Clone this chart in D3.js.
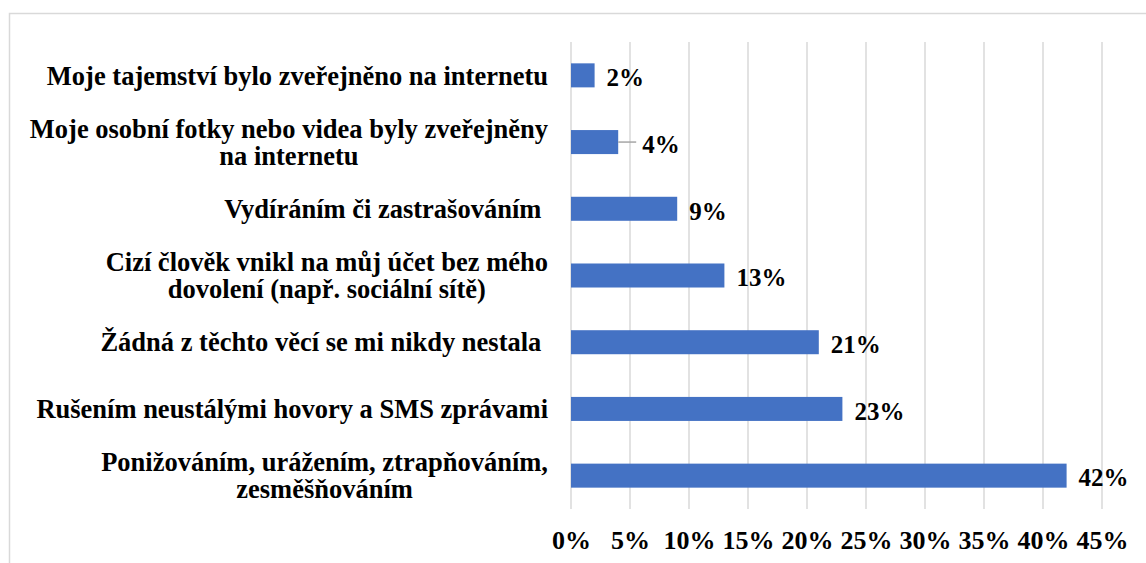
<!DOCTYPE html>
<html>
<head>
<meta charset="UTF-8">
<title>Kyberšikana</title>
<style>
  body { margin: 0; background: #fff; }
</style>
</head>
<body>
<div id="chart"></div>
<script src="https://cdn.jsdelivr.net/npm/d3@7"></script>
<script>
var categories = [
  ["Moje tajemství bylo zveřejněno na internetu"],
  ["Moje osobní fotky nebo videa byly zveřejněny", "na internetu"],
  ["Vydíráním či zastrašováním\u00a0"],
  ["Cizí člověk vnikl na můj účet bez mého", "dovolení (např. sociální sítě)"],
  ["Žádná z těchto věcí se mi nikdy nestala\u00a0"],
  ["Rušením neustálými hovory a SMS zprávami"],
  ["Ponižováním, urážením, ztrapňováním,", "zesměšňováním"]
];
var values = [2, 4, 9, 13, 21, 23, 42];
var ticks = [0, 5, 10, 15, 20, 25, 30, 35, 40, 45];

var W = 1146, H = 563;
var plotL = 571, plotR = 1102, plotT = 42, plotB = 509;
var FONT = "'Liberation Serif'";

function styleText(sel, size) {
  sel.style("font-family", FONT).style("font-weight", "bold")
    .style("font-size", size + "px").style("fill", "#000");
}

var svg = d3.select("#chart").append("svg")
  .attr("width", W).attr("height", H);

// chart frame
svg.append("rect")
  .attr("x", 9.5).attr("y", 13.5)
  .attr("width", W + 10).attr("height", H + 10)
  .attr("fill", "#fff").attr("stroke", "#d9d9d9").attr("stroke-width", 1.5);

var x = d3.scaleLinear().domain([0, 45]).range([plotL, plotR]);
var y = d3.scaleBand().domain(d3.range(values.length))
  .range([plotT, plotB]).paddingInner(0.64).paddingOuter(0.32);

// grid lines
svg.append("g").selectAll("line").data(ticks).join("line")
  .attr("x1", d => x(d)).attr("x2", d => x(d))
  .attr("y1", plotT).attr("y2", plotB)
  .attr("stroke", "#d9d9d9").attr("stroke-width", 1.5);

// x axis labels
var xAxis = d3.axisBottom(x).tickValues(ticks).tickFormat(d => d + "%").tickSize(0);
var gx = svg.append("g").attr("transform", "translate(0," + (plotB + 19) + ")").call(xAxis);
gx.select(".domain").remove();
gx.attr("font-family", null).attr("font-size", null);
styleText(gx.selectAll("text"), 26);

// bars
svg.append("g").selectAll("rect").data(values).join("rect")
  .attr("x", x(0)).attr("y", (d, i) => y(i))
  .attr("width", d => x(d) - x(0)).attr("height", y.bandwidth())
  .attr("fill", "#4472c4");

// leader line for the 4% label
var leadIdx = 1;
svg.append("line")
  .attr("x1", x(values[leadIdx])).attr("x2", x(values[leadIdx]) + 18)
  .attr("y1", y(leadIdx) + y.bandwidth() / 2).attr("y2", y(leadIdx) + y.bandwidth() / 2)
  .attr("stroke", "#a6a6a6").attr("stroke-width", 1.5);

// value labels
var vl = svg.append("g").selectAll("text").data(values).join("text")
  .attr("x", (d, i) => x(d) + (i === leadIdx ? 24 : 12))
  .attr("y", (d, i) => y(i) + y.bandwidth() / 2 + 2)
  .attr("dy", "0.35em")
  .text(d => d + "%");
styleText(vl, 25);

// category labels: block right-aligned, lines centered within block
var labelRight = 548, lineH = 27;
categories.forEach(function (lines, i) {
  var g = svg.append("g");
  var cy = y(i) + y.bandwidth() / 2;
  var t = g.selectAll("text").data(lines).join("text")
    .attr("text-anchor", "middle")
    .attr("dy", "0.35em")
    .style("white-space", "pre")
    .text(d => d);
  styleText(t, 26.5);
  var wmax = 0;
  t.each(function () { wmax = Math.max(wmax, this.getComputedTextLength()); });
  var cx = labelRight - wmax / 2;
  t.attr("x", cx)
    .attr("y", (d, j) => cy + (j - (lines.length - 1) / 2) * lineH);
});
</script>
</body>
</html>
